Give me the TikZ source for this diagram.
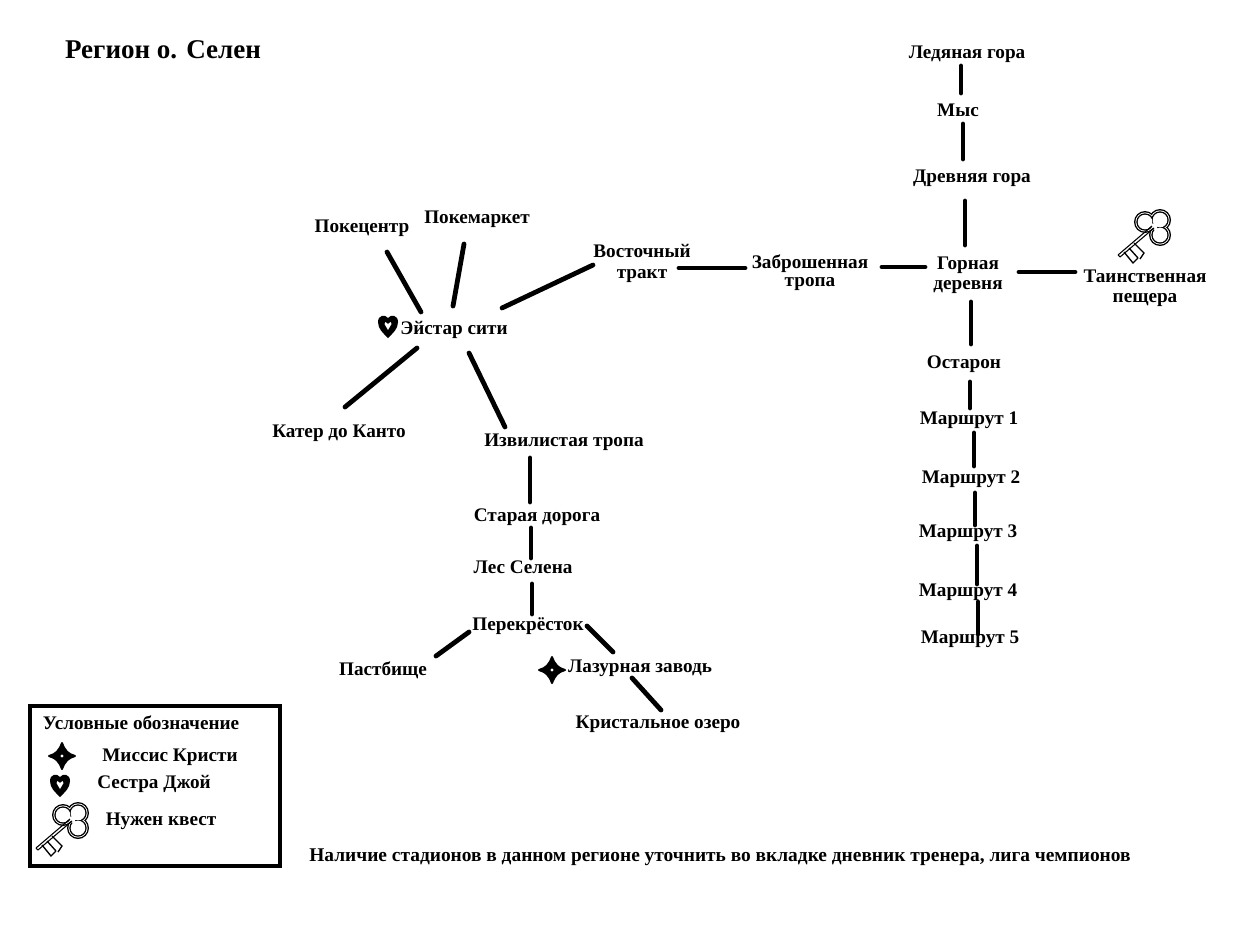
\documentclass[tikz,border=0pt]{standalone}
\usepackage{fontspec}
\setmainfont{Liberation Serif}
\usepackage{tikz}

\tikzset{
	place/.style={inner sep=1pt,align=center,text height=12pt,text depth=2pt,font=\fontsize{14.4}{15}\selectfont\bfseries},
	road/.style={line width=3.6pt,line cap=round},
	frame/.style={line width=3.4pt},
	mystar/.pic={
		\fill[line width=1.5pt,line join=round,draw=black] (-13,0) .. controls (-6,-2) and (-3,-5) .. (0,-13) .. controls (3,-5) and (6,-2) .. (13,0)
			.. controls (6,2) and (3,5) .. (0,13) .. controls (-3,5) and (-6,2) .. (-13,0) -- cycle;
		\fill[white] (0,0) circle (1.7);
	},
	myheart/.pic={
		\fill (0,12) .. controls (-5,7) and (-10,3) .. (-10,-4) .. controls (-10,-11) and (-3,-12) .. (0,-8)
			.. controls (3,-12) and (10,-11) .. (10,-4) .. controls (10,3) and (5,7) .. (0,12) -- cycle;
		\fill[white] (0,4) -- (-3.5,-2) -- (-2.5,-4) -- (0,-2) -- (2.5,-4) -- (3.5,-2) -- cycle;
	},
	mykey/.pic={
		\foreach \r/\c in {11/black,9.6/white,8.7/black,7.3/white}{
			\fill[\c] (2,-16) circle (\r);
			\fill[\c] (17,-18) circle (\r);
			\fill[\c] (17,-3) circle (\r);
		}
		\fill[white] (5,-14) -- (14,-15) -- (14,-6) -- cycle;
		\draw[line width=0.8pt] (9,-12) -- (-25,17) (11,-10) -- (-23,19) (-25,17) -- (-23,19);
		\draw[line width=1pt] (-9,5) -- (1,15) -- (-3,21) (-14,10) -- (-5,20) (-19,14) -- (-10,25) -- (-5,20);
	}
}

\begin{document}
\begin{tikzpicture}[x=0.75pt,y=-0.75pt]
	\useasboundingbox (0,0) rectangle (1259,932);

	\node[place,font=\fontsize{20.3}{22}\selectfont\bfseries] (title) at (163,52) {Регион о. Селен};

	\node[place] (ice) at (967,52) {Ледяная гора};
	\node[place] (cape) at (958,110) {Мыс};
	\node[place] (ancient) at (972,176) {Древняя гора};
	\node[place,text height=27pt] (village) at (968,273) {Горная\\деревня};
	\node[place,text height=27pt] (cave) at (1145,286) {Таинственная\\пещера};
	\node[place,text height=25.5pt] (abandoned) at (810,271) {Заброшенная\\[-1.5pt]тропа};
	\node[place,text height=28pt] (east) at (642,261) {Восточный\\[1pt]тракт};
	\node[place] (ostaron) at (964,362) {Остарон};
	\node[place] (routea) at (969,418) {Маршрут 1};
	\node[place] (routeb) at (971,477) {Маршрут 2};
	\node[place] (routec) at (968,531) {Маршрут 3};
	\node[place] (routed) at (968,590) {Маршрут 4};
	\node[place] (routee) at (970,637) {Маршрут 5};
	\node[place] (center) at (362,226) {Покецентр};
	\node[place] (market) at (477,217) {Покемаркет};
	\node[place] (city) at (454,328) {Эйстар сити};
	\node[place] (boat) at (339,431) {Катер до Канто};
	\node[place] (winding) at (564,440) {Извилистая тропа};
	\node[place] (old) at (537,515) {Старая дорога};
	\node[place] (forest) at (523,567) {Лес Селена};
	\node[place] (cross) at (528,624) {Перекрёсток};
	\node[place] (pasture) at (383,669) {Пастбище};
	\node[place] (bay) at (640,666) {Лазурная заводь};
	\node[place] (crystal) at (658,722) {Кристальное озеро};

	\path[road] ([shift={(-6,14)}]ice.center) edge ([shift={(3,-17)}]cape.center);
	\path[road] ([shift={(5,14)}]cape.center) edge ([shift={(-9,-17)}]ancient.center);
	\path[road] ([shift={(-7,25)}]ancient.center) edge ([shift={(-3,-28)}]village.center);
	\path[road] ([shift={(-43,-6)}]village.center) edge ([shift={(72,-4)}]abandoned.center);
	\path[road] ([shift={(-65,-3)}]abandoned.center) edge ([shift={(37,7)}]east.center);
	\path[road] ([shift={(-49,4)}]east.center) edge ([shift={(48,-20)}]city.center);
	\path[road] ([shift={(51,-1)}]village.center) edge ([shift={(-70,-14)}]cave.center);
	\path[road] ([shift={(3,29)}]village.center) edge ([shift={(7,-18)}]ostaron.center);
	\path[road] ([shift={(6,20)}]ostaron.center) edge ([shift={(1,-10)}]routea.center);
	\path[road] ([shift={(5,15)}]routea.center) edge ([shift={(3,-11)}]routeb.center);
	\path[road] ([shift={(4,16)}]routeb.center) edge ([shift={(7,-6)}]routec.center);
	\path[road] ([shift={(9,15)}]routec.center) edge ([shift={(9,-6)}]routed.center);
	\path[road] ([shift={(10,12)}]routed.center) edge ([shift={(8,-3)}]routee.center);
	\path[road] ([shift={(25,26)}]center.center) edge ([shift={(-33,-16)}]city.center);
	\path[road] ([shift={(-13,27)}]market.center) edge ([shift={(-1,-22)}]city.center);
	\path[road] ([shift={(-37,20)}]city.center) edge ([shift={(6,-24)}]boat.center);
	\path[road] ([shift={(15,25)}]city.center) edge ([shift={(-59,-13)}]winding.center);
	\path[road] ([shift={(-34,18)}]winding.center) edge ([shift={(-7,-13)}]old.center);
	\path[road] ([shift={(-6,13)}]old.center) edge ([shift={(8,-9)}]forest.center);
	\path[road] ([shift={(9,17)}]forest.center) edge ([shift={(4,-10)}]cross.center);
	\path[road] ([shift={(-59,8)}]cross.center) edge ([shift={(53,-13)}]pasture.center);
	\path[road] ([shift={(59,2)}]cross.center) edge ([shift={(-27,-14)}]bay.center);
	\path[road] ([shift={(-8,12)}]bay.center) edge ([shift={(3,-12)}]crystal.center);

	\pic (heartcity) at (388,326) {myheart};
	\pic (starbay) at (552,670) {mystar};
	\pic (keycave) at (1143,238) {mykey};

	% legend
	\draw[frame] (30,706) rectangle (280,866);
	\node[place] (legend) at (141,723) {Условные обозначение};
	\node[place] (kristi) at (170,755) {Миссис Кристи};
	\node[place] (joy) at (154,782) {Сестра Джой};
	\node[place] (quest) at (161,819) {Нужен квест};
	\pic (starlegend) at (62,756) {mystar};
	\pic (heartlegend) at (60,785) {myheart};
	\pic (keylegend) at (61,831) {mykey};

	\node[place,font=\fontsize{14.55}{15}\selectfont\bfseries] (note) at (720,855) {Наличие стадионов в данном регионе уточнить во вкладке дневник тренера, лига чемпионов};
\end{tikzpicture}
\end{document}
